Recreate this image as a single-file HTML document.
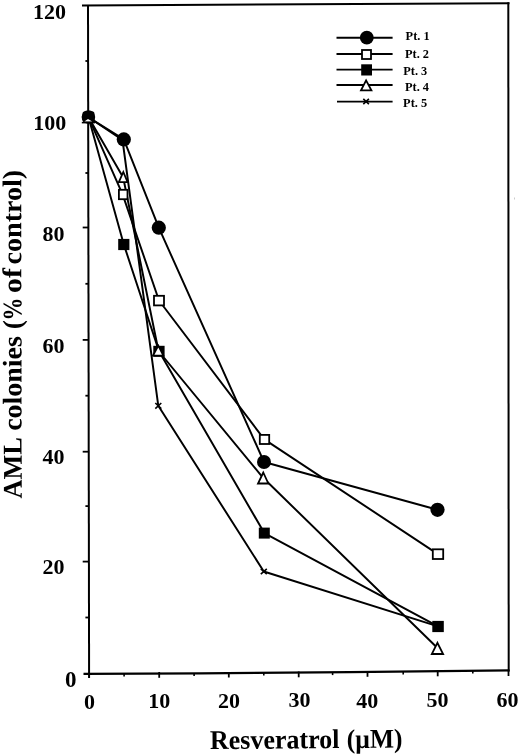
<!DOCTYPE html>
<html><head><meta charset="utf-8"><style>
html,body{margin:0;padding:0;background:#fff;width:520px;height:755px;overflow:hidden}
svg{display:block;filter:grayscale(1)}
text{font-family:"Liberation Serif",serif;font-weight:bold;fill:#000}
</style></head><body>
<svg width="520" height="755" viewBox="0 0 520 755">
<g stroke="#000" stroke-width="2" fill="none" stroke-linecap="butt">
<!-- frame -->
<line x1="82" y1="5.5" x2="509.5" y2="3.2"/>
<line x1="88" y1="5.2" x2="89.1" y2="678"/>
<polyline points="83.5,673.8 200,673.3 350,672.2 509.5,670.3" stroke-width="2.3"/>
<line x1="508.3" y1="2.3" x2="508.7" y2="671.5"/>
</g>
<g stroke="#000" stroke-width="1.8" fill="none">
<!-- y ticks -->
<line x1="82.7" y1="561.6" x2="89" y2="561.6"/>
<line x1="82.7" y1="451.7" x2="89" y2="451.7"/>
<line x1="82.7" y1="339.9" x2="89" y2="339.9"/>
<line x1="82.7" y1="227.5" x2="89" y2="227.5"/>
<line x1="82.7" y1="117.3" x2="89" y2="117.3"/>
<line x1="85.4" y1="617.5" x2="89" y2="617.5"/>
<line x1="85.4" y1="506.1" x2="89" y2="506.1"/>
<line x1="85.4" y1="395.7" x2="89" y2="395.7"/>
<line x1="85.4" y1="283.8" x2="89" y2="283.8"/>
<line x1="85.4" y1="173" x2="89" y2="173"/>
<line x1="85.4" y1="61" x2="89" y2="61"/>
<!-- x ticks -->
<line x1="124.1" y1="673.6" x2="124.1" y2="676.4" stroke-width="1.6"/>
<line x1="194.1" y1="673.3" x2="194.1" y2="676.1" stroke-width="1.6"/>
<line x1="263.8" y1="672.8" x2="263.8" y2="675.6" stroke-width="1.6"/>
<line x1="332.6" y1="672.3" x2="332.6" y2="675.1" stroke-width="1.6"/>
<line x1="403.2" y1="671.6" x2="403.2" y2="674.4" stroke-width="1.6"/>
<line x1="472.8" y1="670.7" x2="472.8" y2="673.5" stroke-width="1.6"/>

<line x1="159.2" y1="672" x2="159.2" y2="677.8"/>
<line x1="228.8" y1="672" x2="228.8" y2="677.5"/>
<line x1="298.7" y1="671.5" x2="298.7" y2="677.3"/>
<line x1="367.5" y1="671" x2="367.5" y2="676.8"/>
<line x1="437.7" y1="670.5" x2="437.7" y2="676.3"/>
<line x1="508.5" y1="670" x2="508.5" y2="676"/>
</g>
<!-- data lines -->
<g stroke="#000" stroke-width="1.95" fill="none" stroke-linejoin="round">
<polyline points="88.5,117.3 123.8,139.4 158.8,227.7 264,462 437.5,509.8"/>
<polyline points="88.5,117.3 122.6,194.4 159,300.5 264.3,439.4 437.9,554.1"/>
<polyline points="88.5,117.3 123.8,244.4 159,351.3 264.3,533.1 438,626.4"/>
<polyline points="88.5,117.3 123.2,177.5 158.5,351 263.1,477.8 437.5,648"/>
<polyline points="88.5,117.3 122.5,140 158.3,405.8 263.8,571.5 438,626.4"/>
</g>
<!-- markers -->
<g fill="#fff" stroke="#000" stroke-width="1.8">
<rect x="118.9" y="189.8" width="8.6" height="9.4"/>
<rect x="154" y="295.8" width="10" height="9.6"/>
<rect x="259.8" y="434.9" width="9.4" height="9.1"/>
<rect x="432.8" y="549.3" width="10.4" height="9.7"/>
</g>
<g fill="#000">
<rect x="118.2" y="238.9" width="11.2" height="11.2"/>
<rect x="153.3" y="345.8" width="11.3" height="11"/>
<rect x="258.8" y="527.6" width="11" height="11"/>
<rect x="432.3" y="620.9" width="11.5" height="11.2"/>
</g>
<g fill="#fff" stroke="#000" stroke-width="1.8">
<polygon points="123.3,172 118.8,182.2 127.6,182.2"/>
<polygon points="158.3,345.6 153,355.6 163.4,355.6"/>
<polygon points="263.3,472.5 258,483.5 268.3,483.5"/>
<polygon points="437.4,642.8 431.8,654 443.1,654"/>
</g>
<g fill="#000">
<circle cx="123.8" cy="139.4" r="7.1"/>
<circle cx="158.8" cy="227.7" r="7.1"/>
<circle cx="264" cy="462" r="7"/>
<circle cx="437.5" cy="509.8" r="7.1"/>
<circle cx="88.4" cy="117" r="6.8"/>
<rect x="82.6" y="111.2" width="11.8" height="11" rx="2.5"/>
</g>
<polygon points="84.3,121.6 88,119 92.2,121.6" fill="#fff"/>
<line x1="81.8" y1="122.6" x2="95" y2="122.6" stroke="#000" stroke-width="1.6"/>
<g stroke="#000" stroke-width="1.6" fill="none">
<path d="M155.3,403 L161.3,408.6 M155.3,408.6 L161.3,403"/>
<path d="M260.8,568.8 L266.8,574.2 M260.8,574.2 L266.8,568.8"/>
</g>
<!-- legend -->
<g stroke="#000" stroke-width="1.9" fill="none">
<line x1="336.5" y1="37.8" x2="392.6" y2="37.8"/>
<line x1="336.5" y1="54" x2="392.6" y2="54"/>
<line x1="336.5" y1="69.6" x2="392.6" y2="69.6"/>
<line x1="336.5" y1="85" x2="392.6" y2="85"/>
<line x1="337" y1="101.6" x2="392.6" y2="101.6"/>
</g>
<circle cx="366.8" cy="37.7" r="6.9" fill="#000"/>
<rect x="362" y="50" width="9" height="9" fill="#fff" stroke="#000" stroke-width="1.8"/>
<rect x="361.2" y="64.3" width="10.8" height="11.2" fill="#000"/>
<polygon points="366.1,80.4 361,90.3 371.4,90.3" fill="#fff" stroke="#000" stroke-width="1.8"/>
<path d="M363.3,98.8 L368.9,104.2 M363.3,104.2 L368.9,98.8" stroke="#000" stroke-width="1.6"/>
<g font-size="13">
<text x="405.6" y="39.9" textLength="24" lengthAdjust="spacingAndGlyphs">Pt. 1</text>
<text x="405" y="58.3" textLength="24" lengthAdjust="spacingAndGlyphs">Pt. 2</text>
<text x="403.3" y="74.7" textLength="24" lengthAdjust="spacingAndGlyphs">Pt. 3</text>
<text x="405" y="91.3" textLength="24" lengthAdjust="spacingAndGlyphs">Pt. 4</text>
<text x="403.1" y="106.6" textLength="24" lengthAdjust="spacingAndGlyphs">Pt. 5</text>
</g>
<!-- y labels -->
<g font-size="22" text-anchor="end">
<text x="66" y="18.5">120</text>
<text x="66.2" y="130.3">100</text>
<text x="64.5" y="240.8">80</text>
<text x="64.5" y="352.5">60</text>
<text x="64.5" y="464.3">40</text>
<text x="64.6" y="574.1">20</text>
<text x="76.6" y="686.6" font-size="23">0</text>
</g>
<!-- x labels -->
<g font-size="22" text-anchor="middle">
<text x="89.4" y="708.6">0</text>
<text x="159.2" y="708.3">10</text>
<text x="228.9" y="708">20</text>
<text x="299.4" y="707.2">30</text>
<text x="367.2" y="707.5">40</text>
<text x="437.5" y="706.6">50</text>
<text x="507.4" y="707">60</text>
</g>
<g font-size="27" transform="rotate(-0.47 305 748)">
<text x="210.0" y="748.3" textLength="129.5" lengthAdjust="spacingAndGlyphs">Resveratrol</text>
<text x="346.7" y="748.3" textLength="55.8" lengthAdjust="spacingAndGlyphs">(µM)</text>
</g>
<g font-size="27" transform="translate(21.7,500) rotate(-90.1)">
<text x="1.5" textLength="61.3" lengthAdjust="spacingAndGlyphs">AML</text>
<text x="69.2" textLength="94.6" lengthAdjust="spacingAndGlyphs">colonies</text>
<text x="170.7" textLength="9.2" lengthAdjust="spacingAndGlyphs">(</text>
<text x="179.4" textLength="23.0" lengthAdjust="spacingAndGlyphs">%</text>
<text x="207.0" textLength="24.8" lengthAdjust="spacingAndGlyphs">of</text>
<text x="235.5" textLength="94.7" lengthAdjust="spacingAndGlyphs">control)</text>
</g>
<rect x="514" y="197.5" width="1" height="2" fill="#ccc"/>
</svg>
</body></html>
